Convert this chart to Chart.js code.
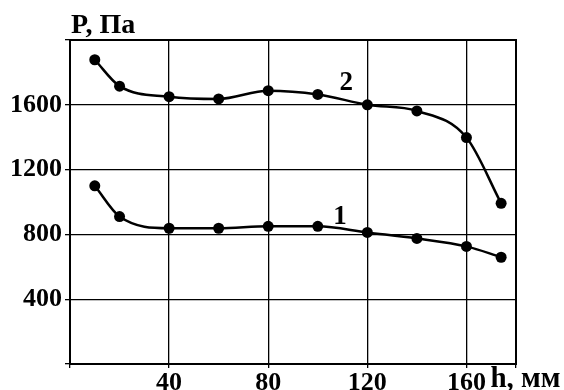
<!DOCTYPE html>
<html>
<head>
<meta charset="utf-8">
<script src="https://cdn.jsdelivr.net/npm/chart.js@4.4.0/dist/chart.umd.min.js"></script>
<style>
  html, body { margin: 0; padding: 0; background: #fff; }
  #wrap { width: 564px; height: 390px; }
</style>
</head>
<body>
<div id="wrap"><canvas id="lineChart" width="564" height="390"></canvas></div>
<script>
// h, мм
var hVals = [10, 20, 40, 60, 80, 100, 120, 140, 160, 174];
// P, Па - curve 1
var curve1 = [1100, 910, 838, 838, 850, 850, 812, 775, 726, 659];
// P, Па - curve 2
var curve2 = [1878, 1715, 1650, 1636, 1687, 1664, 1600, 1562, 1398, 992];

var xTicks = [0, 40, 80, 120, 160, 180];
var yTicks = [0, 400, 800, 1200, 1600, 2000];

var fontFam = '"Liberation Serif", "Times New Roman", serif';

function toPoints(xs, ys) {
    return xs.map(function (x, i) { return { x: x, y: ys[i] }; });
}

// рамка графика
var framePlugin = {
    id: 'framePlugin',
    afterDatasetsDraw: function (chart) {
        var a = chart.chartArea, ctx = chart.ctx;
        ctx.save();
        ctx.strokeStyle = '#000';
        ctx.lineWidth = 2;
        ctx.strokeRect(a.left, a.top, a.right - a.left, a.bottom - a.top);
        ctx.restore();
    }
};

// подписи: оси и номера кривых
var labelsPlugin = {
    id: 'labelsPlugin',
    afterDraw: function (chart) {
        var ctx = chart.ctx;
        var xs = chart.scales.x, ys = chart.scales.y;
        ctx.save();
        ctx.fillStyle = '#000';
        ctx.font = 'bold 28px ' + fontFam;
        ctx.textBaseline = 'alphabetic';
        ctx.textAlign = 'left';
        ctx.fillText('P, Па', chart.chartArea.left + 1, chart.chartArea.top - 7);
        ctx.font = 'bold 29px ' + fontFam;
        ctx.fillText('h, мм', xs.getPixelForValue(160) + 24, 387);
        ctx.font = 'bold 27px ' + fontFam;
        ctx.textAlign = 'center';
        ctx.fillText('2', xs.getPixelForValue(111.5), ys.getPixelForValue(1640) - 8);
        ctx.fillText('1', xs.getPixelForValue(109), ys.getPixelForValue(820) - 7);
        ctx.restore();
    }
};

var lineStyle = {
    borderColor: '#000',
    backgroundColor: '#000',
    borderWidth: 2.5,
    pointRadius: 5.5,
    pointBackgroundColor: '#000',
    pointBorderWidth: 0,
    fill: false,
    cubicInterpolationMode: 'monotone'
};

var config = {
    type: 'line',
    data: {
        datasets: [
            Object.assign({ label: '1', data: toPoints(hVals, curve1) }, lineStyle),
            Object.assign({ label: '2', data: toPoints(hVals, curve2) }, lineStyle)
        ]
    },
    options: {
        responsive: false,
        animation: false,
        layout: { padding: { top: 40, right: 48, left: 0, bottom: 0 } },
        plugins: {
            legend: { display: false },
            tooltip: { enabled: false }
        },
        scales: {
            x: {
                type: 'linear',
                min: 0,
                max: 180,
                afterBuildTicks: function (scale) {
                    scale.ticks = xTicks.map(function (v) { return { value: v }; });
                },
                afterFit: function (scale) { scale.height = 26; },
                grid: { color: '#000', lineWidth: 1.3, tickLength: 4 },
                border: { color: '#000', width: 1.5 },
                ticks: {
                    color: '#000',
                    padding: 0,
                    maxRotation: 0,
                    font: { family: fontFam, size: 26, weight: 'bold' },
                    callback: function (v) { return (v === 0 || v === 180) ? '' : v; }
                }
            },
            y: {
                type: 'linear',
                min: 0,
                max: 2000,
                afterBuildTicks: function (scale) {
                    scale.ticks = yTicks.map(function (v) { return { value: v }; });
                },
                afterFit: function (scale) { scale.width = 70; },
                grid: { color: '#000', lineWidth: 1.3, tickLength: 5 },
                border: { color: '#000', width: 1.5 },
                ticks: {
                    color: '#000',
                    padding: 3,
                    font: { family: fontFam, size: 26, weight: 'bold' },
                    callback: function (v) { return (v === 0 || v === 2000) ? '' : v; }
                }
            }
        }
    },
    plugins: [framePlugin, labelsPlugin]
};

var myLineChart = new Chart(document.getElementById('lineChart'), config);
</script>
</body>
</html>
